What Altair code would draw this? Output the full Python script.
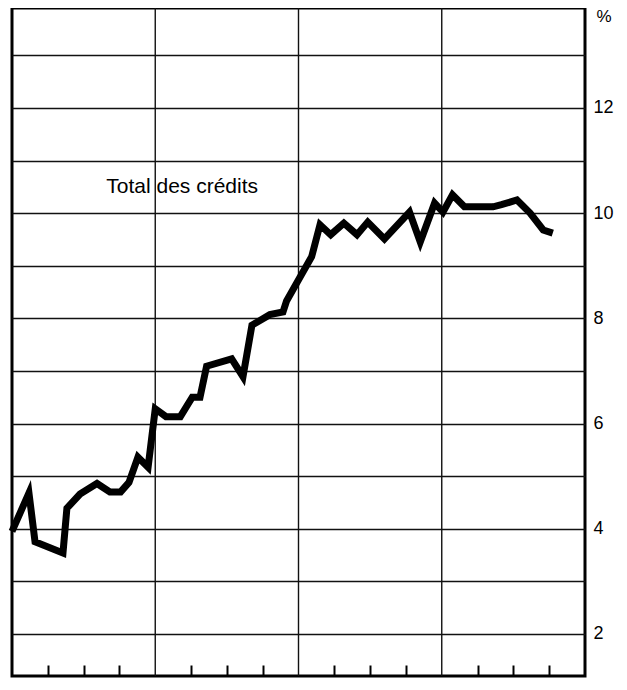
import altair as alt
import pandas as pd

# time in months from start of the 4-year span (0..48)
months = [0, 1.42, 1.93, 4.27, 4.6, 5.7, 7.12, 8.2, 9.1, 9.8,
          10.55, 11.4, 12.0, 12.9, 14.1, 15.1, 15.75, 16.3, 18.4, 19.35,
          20.1, 21.6, 22.7, 23.0, 24.1, 25.1, 25.8, 26.7, 27.8, 28.9,
          29.8, 31.2, 33.3, 34.2, 35.4, 36.1, 36.9, 37.9, 40.3, 41.0,
          42.3, 43.4, 44.5, 45.3]
values = [3.95, 4.68, 3.75, 3.54, 4.39, 4.66, 4.86, 4.70, 4.70, 4.88,
          5.36, 5.17, 6.28, 6.13, 6.13, 6.5, 6.5, 7.09, 7.23, 6.89,
          7.87, 8.07, 8.12, 8.33, 8.77, 9.17, 9.78, 9.59, 9.81, 9.59,
          9.83, 9.51, 10.02, 9.45, 10.19, 10.02, 10.35, 10.12, 10.12, 10.16,
          10.25, 10.0, 9.68, 9.62]

year_lines = [12, 24, 36]
quarter_ticks = [3, 6, 9, 15, 18, 21, 27, 30, 33, 39, 42, 45]
y_grid = list(range(2, 14))
y_labels = [2, 4, 6, 8, 10, 12]

label_text = ["Total des crédits"]
label_x = [7.9]
label_y = [10.38]

df = pd.DataFrame({"m": months, "v": values})
df_years = pd.DataFrame({"m": year_lines})
df_label = pd.DataFrame({"m": label_x, "v": label_y, "t": label_text})

FONT = "Liberation Sans"

xscale = alt.Scale(domain=[0, 48], nice=False, zero=False)
yscale = alt.Scale(domain=[1.2, 13.9], nice=False, zero=False)

label_expr = "indexof([" + ",".join(str(v) for v in y_labels) + "], datum.value) >= 0 ? datum.label : ''"

line = alt.Chart(df).mark_line(
    color="black", strokeWidth=7, strokeJoin="miter", strokeMiterLimit=6
).encode(
    x=alt.X("m:Q", scale=xscale,
            axis=alt.Axis(values=quarter_ticks, tickSize=11, offset=-11, labels=False,
                          domain=False, grid=False, title=None, tickColor="black",
                          tickWidth=2)),
    y=alt.Y("v:Q", scale=yscale,
            axis=alt.Axis(orient="right", values=y_grid, grid=True, gridColor="#111",
                          gridWidth=1.4, ticks=False, domain=False, labelExpr=label_expr,
                          labelFont=FONT, labelFontSize=18, labelColor="black",
                          labelPadding=8, labelAlign="left", title="%", titleAngle=0,
                          titleFont=FONT, titleFontSize=17, titleFontWeight="normal",
                          titleColor="black", titleAlign="left", titleBaseline="middle",
                          titleX=11, titleY=8)),
)

vrules = alt.Chart(df_years).mark_rule(color="#111", strokeWidth=1.4).encode(
    x=alt.X("m:Q", scale=xscale)
)

text = alt.Chart(df_label).mark_text(
    font=FONT, fontSize=21, align="left", baseline="alphabetic", color="black"
).encode(
    x=alt.X("m:Q", scale=xscale),
    y=alt.Y("v:Q", scale=yscale),
    text="t:N",
)

chart = alt.layer(vrules, line, text).properties(
    width=573, height=668,
    padding={"left": 4, "top": 0, "right": 30, "bottom": 2},
    autosize=alt.AutoSizeParams(type="none"),
    background="white",
).configure_view(stroke="black", strokeWidth=3)

chart.save("out.html", embed_options={"renderer": "svg", "actions": False})
